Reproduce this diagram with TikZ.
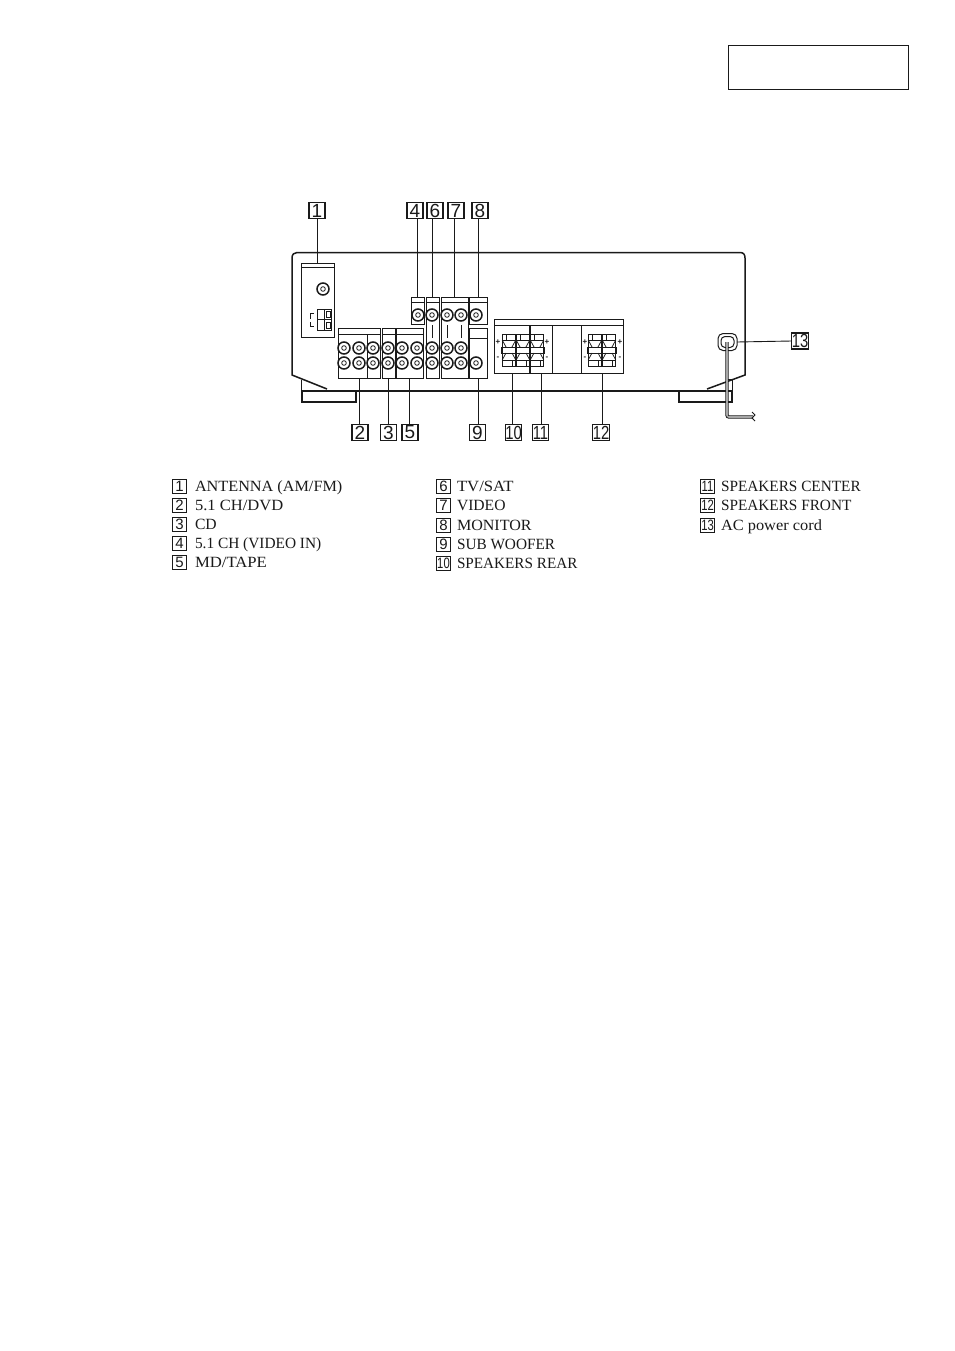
\documentclass[tikz,border=0pt]{standalone}
\usepackage{fontspec}
\setmainfont{Liberation Serif}
\newfontfamily\digitfont{Liberation Sans}
\usetikzlibrary{calc}
\definecolor{ink}{HTML}{1a1a1a}
\tikzset{
 every node/.append style={inner sep=0pt,outer sep=0pt},
 panel/.style={draw=ink,line width=0.95pt,rectangle,fill=white},
 thinl/.style={draw=ink,line width=0.75pt},
 body/.style={draw=ink,line width=1.5pt},
 leader/.style={draw=ink,line width=0.9pt},
 numbox/.style={draw=ink,line width=1.1pt,rectangle,minimum width=16pt,minimum height=16pt,font=\digitfont\fontsize{19}{19}\selectfont,text=ink},
 keybox/.style={draw=ink,line width=1pt,rectangle,minimum width=14.5pt,minimum height=14pt,font=\digitfont\fontsize{15}{15}\selectfont,text=ink},
 keytext/.style={anchor=base west,font=\fontsize{15.6}{16}\selectfont,text=ink},
 jackout/.style={draw=ink,line width=1.5pt,circle,minimum size=12pt,fill=white},
 jackin/.style={draw=ink,line width=0.8pt,circle,minimum size=4.6pt,fill=white},
 sign/.style={font=\digitfont\bfseries\fontsize{8}{8}\selectfont,text=ink},
}
\newcommand\nar[1]{\scalebox{0.78}[1]{#1}}
\newcommand\pnl[5]{%
 \pgfmathsetmacro\pw{#4-#2}\pgfmathsetmacro\ph{#5-#3}%
 \node[panel,minimum width=\pw pt,minimum height=\ph pt] (#1) at ({(#2+#4)/2},{(#3+#5)/2}) {};}
\newcommand\jack[3]{\node[jackout] (#1) at (#2,#3) {}; \node[jackin] at (#1) {};}
\newcommand\keyrow[6]{%
 \node[keybox] (k#4) at (#2,#3) {\ifnum#4>9 \scalebox{0.75}[1]{#4}\else #4\fi};
 \node[keytext] (t#4) at (#5,#3+5) {\scalebox{#6}[1]{#1}};}
\newcommand\term[2]{% one terminal pair, centre x,y
 \draw[thinl] ({#1-6.8},{#2-16}) rectangle ({#1+6.8},{#2+16});
 \draw[thinl] ({#1-6.8},{#2-10}) -- ({#1+6.8},{#2-10}) ({#1-6.8},{#2+10}) -- ({#1+6.8},{#2+10});
 \draw[thinl] ({#1-6.8},{#2-10}) -- ({#1-3},{#2-3}) ({#1+6.8},{#2-10}) -- ({#1+3},{#2-3}) ({#1-6.8},{#2+10}) -- ({#1-3},{#2+3}) ({#1+6.8},{#2+10}) -- ({#1+3},{#2+3});
 \draw[thinl] ({#1-7.5},{#2-3}) rectangle ({#1+7.5},{#2+3});
 \draw[thinl] ({#1-3},{#2-16}) -- ({#1-3},{#2-10}) ({#1+3},{#2+10}) -- ({#1+3},{#2+16});}
\begin{document}
\begin{tikzpicture}[x=1pt,y=-1pt]
\useasboundingbox (0,0) rectangle (954,1351);
\fill[white,draw=none] (0,0) rectangle (954,1351);
% top-right empty frame
\node[draw=ink,line width=1pt,rectangle,minimum width=180pt,minimum height=44pt] (frame) at (818,68) {};
% chassis
\draw[body] (327,389) -- (292,375) -- (292,258) .. controls (292,254.5) and (294,252.5) .. (297,252.5) -- (740,252.5) .. controls (743.5,252.5) and (745,254.5) .. (745,258) -- (745,375) -- (707,389);
\draw[body] (301,391) -- (732,391);
\draw[thinl] (301,380) -- (301,391) (732,379) -- (732,391) (727,379) -- (732,379);
\draw[body] (302,391) -- (302,402) -- (356,402) -- (356,391);
\draw[body] (679,391) -- (679,402) -- (732,402) -- (732,391);
% antenna panel
\pnl{p1}{301}{263}{334}{337}
\draw[thinl] (301,267.5) -- (334,267.5);
\jack{ant}{323}{289}
\draw[thinl] (314,313) -- (310,313) -- (310,319) (310,322) -- (310,326) -- (314,326);
\draw[thinl] (317,309) rectangle (331,330) (317,319.5) -- (331,319.5) (324,309) -- (324,330);
\draw[thinl] (326,311) rectangle (330,317) (326,322) rectangle (330,328);
% input panels
\pnl{p2}{338}{328}{380}{378}
\draw[thinl] (338,334) -- (380,334) (367,334) -- (367,378);
\pnl{p3}{382}{328}{395}{378}
\draw[thinl] (382,334) -- (395,334);
\pnl{p5}{396}{328}{423}{378}
\draw[thinl] (396,334) -- (423,334);
\pnl{p4}{411}{297}{424}{324}
\draw[thinl] (411,302) -- (424,302);
\pnl{p6}{426}{297}{439}{378}
\draw[thinl] (426,302) -- (439,302);
\pnl{p7}{441}{297}{468}{378}
\draw[thinl] (441,302) -- (468,302);
\pnl{p8}{469}{297}{487}{324}
\draw[thinl] (469,302) -- (487,302);
\pnl{p9}{469}{328}{487}{378}
\draw[thinl] (469,338) -- (487,338);
\draw[thinl] (432.5,325) -- (432.5,338) (447,325) -- (447,338) (461,325) -- (461,338);
% jacks
\jack{ja}{344}{348}\jack{jb}{359}{348}\jack{jc}{373}{348}\jack{jd}{388}{348}\jack{je}{402}{348}\jack{jf}{417}{348}\jack{jg}{432}{348}\jack{jh}{447}{348}\jack{ji}{461}{348}
\jack{ka}{344}{363}\jack{kb}{359}{363}\jack{kc}{373}{363}\jack{kd}{388}{363}\jack{ke}{402}{363}\jack{kf}{417}{363}\jack{kg}{432}{363}\jack{kh}{447}{363}\jack{ki}{461}{363}\jack{kj}{476}{363}
\jack{ma}{418}{315}\jack{mb}{432}{315}\jack{mc}{447}{315}\jack{md}{461}{315}\jack{me}{476}{315}
% speaker panels
\draw[thinl] (494,319) rectangle (623,325);
\pnl{p10}{494}{325}{530}{373}
\pnl{p11}{530}{325}{552}{373}
\pnl{p12}{581}{325}{623}{373}
\draw[draw=ink,line width=1.6pt] (530,325) -- (530,373);
\draw[thinl] (552,325) -- (581,325) (552,373) -- (581,373);
\term{509}{350}\term{523}{350}\term{537}{350}
\term{595}{350}\term{609}{350}
\node[sign] (s1) at (498,342) {+};
\node[sign] (s2) at (498,358) {-};
\node[sign] (s3) at (547,342) {+};
\node[sign] (s4) at (547,358) {-};
\node[sign] (s5) at (585,342) {+};
\node[sign] (s6) at (585,358) {-};
\node[sign] (s7) at (620,342) {+};
\node[sign] (s8) at (620,358) {-};
% cord
\node[draw=ink,line width=1pt,rectangle,rounded corners=5pt,minimum width=19pt,minimum height=17pt,fill=white] (grommet) at (727.5,342) {};
\node[draw=ink,line width=1pt,rectangle,rounded corners=4pt,minimum width=13pt,minimum height=11pt] (grommet2) at (727.5,342) {};
\draw[line width=3.4pt,draw=ink,rounded corners=2pt] (727,342) -- (727,417) -- (753,417);
\draw[line width=1.6pt,draw=black!35,rounded corners=2pt] (727,342) -- (727,417) -- (753,417);
\draw[thinl] (752,412) -- (755,415) -- (752,418) -- (755,421);
% callout numbers
\node[numbox] (l1) at (317,210.5) {1};
\node[numbox] (l4) at (415,210.5) {4};
\node[numbox] (l6) at (435,210.5) {6};
\node[numbox] (l7) at (456,210.5) {7};
\node[numbox] (l8) at (480,210.5) {8};
\node[numbox] (l2) at (360,432.5) {2};
\node[numbox] (l3) at (388.5,432.5) {3};
\node[numbox] (l5) at (410,432.5) {5};
\node[numbox] (l9) at (477.5,432.5) {9};
\node[numbox] (l10) at (513.5,432.5) {\nar{10}};
\node[numbox] (l11) at (540.5,432.5) {\nar{11}};
\node[numbox] (l12) at (601,432.5) {\nar{12}};
\node[numbox] (l13) at (800,341) {\nar{13}};
\foreach \n in {1,4,6,7,8} {\draw[leader] (l\n.south -| p\n.north) -- (p\n.north);}
\foreach \n in {2,3,5,9,10,11,12} {\draw[leader] (p\n.south) -- (l\n.north -| p\n.south);}
\draw[leader] (grommet.east) -- (l13.west);
% key
\keyrow{ANTENNA (AM/FM)}{179.5}{486}{1}{195}{1.04}
\keyrow{5.1 CH/DVD}{179.5}{505}{2}{195}{1.06}
\keyrow{CD}{179.5}{524}{3}{195}{1}
\keyrow{5.1 CH (VIDEO IN)}{179.5}{543}{4}{195}{0.985}
\keyrow{MD/TAPE}{179.5}{562}{5}{195}{1.07}
\keyrow{TV/SAT}{443.5}{486}{6}{457}{1.07}
\keyrow{VIDEO}{443.5}{505}{7}{457}{1}
\keyrow{MONITOR}{443.5}{525}{8}{457}{1.03}
\keyrow{SUB WOOFER}{443.5}{544}{9}{457}{0.98}
\keyrow{SPEAKERS REAR}{443.5}{563}{10}{457}{0.975}
\keyrow{SPEAKERS CENTER}{707.5}{486}{11}{721}{0.98}
\keyrow{SPEAKERS FRONT}{707.5}{505}{12}{721}{0.98}
\keyrow{AC power cord}{707.5}{525}{13}{721}{1.05}
\end{tikzpicture}
\end{document}
